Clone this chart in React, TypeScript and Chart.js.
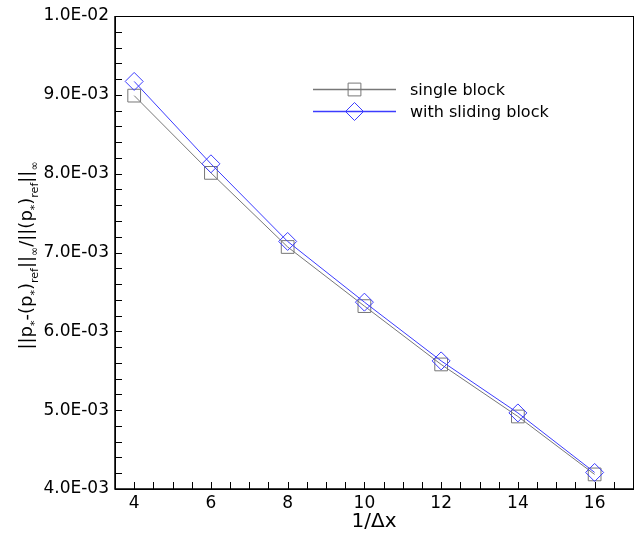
import React, { useEffect, useRef } from "react";
import { Chart, registerables } from "chart.js";

Chart.register(...registerables);

const xValues = [4, 6, 8, 10, 12, 14, 16];
const singleBlock = [8.99e-3, 8.01e-3, 7.07e-3, 6.32e-3, 5.58e-3, 4.92e-3, 4.185e-3];
const slidingBlock = [9.17e-3, 8.125e-3, 7.14e-3, 6.37e-3, 5.625e-3, 4.965e-3, 4.21e-3];
const xTicks = [4, 6, 8, 10, 12, 14, 16];
const yTicks = [4e-3, 5e-3, 6e-3, 7e-3, 8e-3, 9e-3, 1e-2];
const seriesLabels = ["single block", "with sliding block"];
const xTitle = "1/\u0394x";

const GREY = "#777777";
const BLUE = "#3c3cff";
const FONT = "'DejaVu Sans', sans-serif";

function fmtExp(v: number): string {
  const [m, e] = Number(v).toExponential(1).split("e");
  const n = parseInt(e, 10);
  return m + "E" + (n < 0 ? "-" : "+") + String(Math.abs(n)).padStart(2, "0");
}

const decorPlugin = {
  id: "decor",
  afterDraw(chart: any) {
    const ctx = chart.ctx;
    const a = chart.chartArea;
    const xs = chart.scales.x;
    const ys = chart.scales.y;
    ctx.save();
    // frame
    ctx.strokeStyle = "#000";
    ctx.lineWidth = 1;
    ctx.strokeRect(Math.round(a.left) + 0.5, Math.round(a.top) + 0.5, Math.round(a.right - a.left), Math.round(a.bottom - a.top));
    ctx.lineWidth = 1.5;
    ctx.beginPath();
    ctx.moveTo(a.left, a.top);
    ctx.lineTo(a.left, a.bottom);
    ctx.lineTo(a.right, a.bottom);
    ctx.stroke();
    // ticks (major + minor), inward
    ctx.lineWidth = 1;
    const tl = 7;
    ctx.beginPath();
    for (let v = xs.min; v <= xs.max + 1e-9; v += 0.5) {
      const px = Math.round(xs.getPixelForValue(v)) + 0.5;
      if (px <= a.left + 1 || px >= a.right - 1) continue;
      ctx.moveTo(px, a.bottom);
      ctx.lineTo(px, a.bottom - tl);
    }
    for (let k = 0; k <= 30; k++) {
      const v = ys.min + k * 0.0002;
      if (v > ys.max + 1e-12) break;
      const py = Math.round(ys.getPixelForValue(v)) + 0.5;
      if (py <= a.top + 1 || py >= a.bottom - 1) continue;
      ctx.moveTo(a.left, py);
      ctx.lineTo(a.left + tl, py);
    }
    ctx.stroke();

    // legend
    const lx0 = a.left + 198;
    const lx1 = a.left + 281;
    const mx = (lx0 + lx1) / 2;
    const ly = [a.top + 73.5, a.top + 95.5];
    const cols = [GREY, BLUE];
    ctx.font = "16px " + FONT;
    ctx.textBaseline = "middle";
    ctx.textAlign = "left";
    for (let i = 0; i < 2; i++) {
      ctx.strokeStyle = cols[i];
      ctx.lineWidth = 1.3;
      ctx.beginPath();
      ctx.moveTo(lx0, ly[i]);
      ctx.lineTo(lx1, ly[i]);
      ctx.stroke();
      ctx.lineWidth = 1;
      ctx.beginPath();
      if (i === 0) {
        ctx.rect(mx - 6.4, ly[i] - 6.4, 12.8, 12.8);
      } else {
        const r = 9;
        ctx.moveTo(mx - r, ly[i]);
        ctx.lineTo(mx, ly[i] - r);
        ctx.lineTo(mx + r, ly[i]);
        ctx.lineTo(mx, ly[i] + r);
        ctx.closePath();
      }
      ctx.stroke();
      ctx.fillStyle = "#000";
      ctx.fillText(seriesLabels[i], a.left + 295, ly[i] + 1);
    }

    // y-axis title with subscripts
    const segs: [string, number][] = [
      ["||p", 0], ["*", 1], ["-(p", 0], ["*", 1], [")", 0], ["ref", 1], ["||", 0], ["\u221e", 1],
      ["/||(p", 0], ["*", 1], [")", 0], ["ref", 1], ["||", 0], ["\u221e", 1],
    ];
    const mainFont = "18px " + FONT;
    const subFont = "11px " + FONT;
    let total = 0;
    for (const [t, s] of segs) {
      ctx.font = s ? subFont : mainFont;
      total += ctx.measureText(t).width;
    }
    const cy = (a.top + a.bottom) / 2 + 3;
    ctx.translate(32, cy);
    ctx.rotate(-Math.PI / 2);
    ctx.fillStyle = "#000";
    ctx.textBaseline = "alphabetic";
    let x = -total / 2;
    for (const [t, s] of segs) {
      ctx.font = s ? subFont : mainFont;
      ctx.fillText(t, x, s ? 6 : 0);
      x += ctx.measureText(t).width;
    }
    ctx.restore();
  },
};

export default function App() {
  const ref = useRef<HTMLCanvasElement | null>(null);
  useEffect(() => {
    if (!ref.current) return;
    const chart = new Chart(ref.current, {
      type: "line",
      data: {
        datasets: [
          {
            label: seriesLabels[0],
            data: xValues.map((x, i) => ({ x, y: singleBlock[i] })),
            borderColor: GREY,
            borderWidth: 1,
            pointStyle: "rect",
            pointRadius: 9,
            pointBorderWidth: 1,
            pointBorderColor: GREY,
            pointBackgroundColor: "rgba(0,0,0,0)",
            tension: 0,
            order: 1,
          },
          {
            label: seriesLabels[1],
            data: xValues.map((x, i) => ({ x, y: slidingBlock[i] })),
            borderColor: BLUE,
            borderWidth: 1,
            pointStyle: "rectRot",
            pointRadius: 9,
            pointBorderWidth: 1,
            pointBorderColor: BLUE,
            pointBackgroundColor: "rgba(0,0,0,0)",
            tension: 0,
            order: 0,
          },
        ],
      },
      options: {
        animation: false,
        responsive: false,
        devicePixelRatio: 1,
        layout: { autoPadding: false, padding: { left: 0, top: 16, right: 5, bottom: 0 } },
        plugins: { legend: { display: false }, tooltip: { enabled: false } },
        scales: {
          x: {
            type: "linear",
            min: 3.5,
            max: 17,
            grid: { display: false, drawTicks: false },
            border: { display: false },
            afterBuildTicks: (s: any) => {
              s.ticks = xTicks.map((v) => ({ value: v }));
            },
            afterFit: (s: any) => {
              s.height = 48;
              s.paddingLeft = 0;
              s.paddingRight = 0;
            },
            ticks: {
              color: "#000",
              padding: 4,
              maxRotation: 0,
              autoSkip: false,
              font: { family: FONT, size: 17 },
            },
            title: {
              display: true,
              text: xTitle,
              color: "#000",
              font: { family: FONT, size: 20 },
              padding: { top: 0, bottom: 3 },
            },
          },
          y: {
            type: "linear",
            min: 0.004,
            max: 0.01,
            grid: { display: false, drawTicks: false },
            border: { display: false },
            afterBuildTicks: (s: any) => {
              s.ticks = yTicks.map((v) => ({ value: v }));
            },
            afterFit: (s: any) => {
              s.width = 115;
              s.paddingTop = 0;
              s.paddingBottom = 0;
            },
            ticks: {
              color: "#000",
              padding: 6,
              autoSkip: false,
              font: { family: FONT, size: 17 },
              callback: (v: any) => fmtExp(Number(v)),
            },
          },
        },
      },
      plugins: [decorPlugin],
    } as any);
    return () => chart.destroy();
  }, []);
  return (
    <div style={{ position: "absolute", left: 0, top: 0, width: 638, height: 537, background: "#fff" }}>
      <canvas ref={ref} width={638} height={537} style={{ width: 638, height: 537 }} />
    </div>
  );
}
